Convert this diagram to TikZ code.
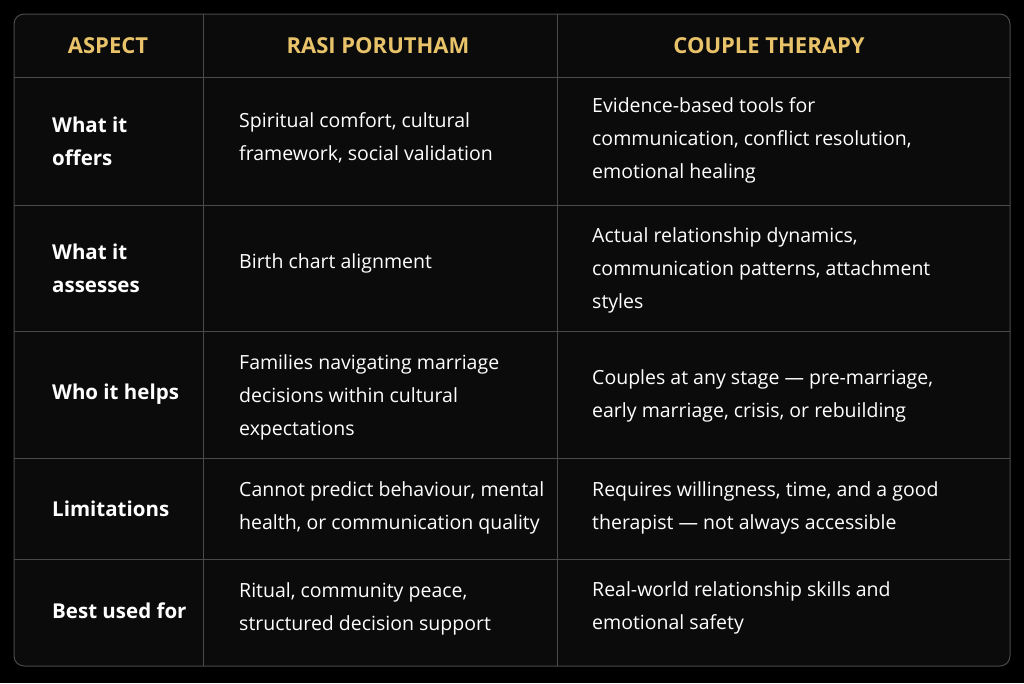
\documentclass[tikz,border=0pt]{standalone}
\usepackage{fontspec}
\setmainfont{Open Sans}
\definecolor{gold}{HTML}{E8C36A}
\definecolor{grid}{HTML}{4A4A4A}
\definecolor{cellbg}{HTML}{0B0B0B}
\begin{document}
\begin{tikzpicture}[x=1pt,y=-1pt,
  txt/.style={anchor=west,align=left,text=white,font=\fontsize{19.5}{33}\selectfont,inner sep=0pt},
  lbl/.style={txt,font=\bfseries\fontsize{20.5}{33}\selectfont},
  hdr/.style={text=gold,font=\bfseries\fontsize{22}{26}\selectfont,inner sep=0pt}]
\fill[black] (0,0) rectangle (1024,683);
\useasboundingbox (0,0) rectangle (1024,683);
\draw[grid,fill=cellbg,rounded corners=10pt,line width=1pt] (14,14) rectangle (1010,666);
\foreach \x in {203,557} \draw[grid,line width=1pt] (\x,14) -- (\x,666);
\foreach \y in {77,205,331,458,559} \draw[grid,line width=1pt] (14,\y) -- (1010,\y);
\node[hdr] (h1) at (108,46) {ASPECT};
\node[hdr] (h2) at (378,46) {RASI PORUTHAM};
\node[hdr] (h3) at (769,46) {COUPLE THERAPY};
\node[lbl] (a1) at (52,141) {What it\\offers};
\node[txt] (b1) at (239,138) {Spiritual comfort, cultural\\framework, social validation};
\node[txt] (c1) at (592,140) {Evidence-based tools for\\communication, conflict resolution,\\emotional healing};
\node[lbl] (a2) at (52,268) {What it\\assesses};
\node[txt] (b2) at (239,263) {Birth chart alignment};
\node[txt] (c2) at (592,270) {Actual relationship dynamics,\\communication patterns, attachment\\styles};
\node[lbl] (a3) at (52,394) {Who it helps};
\node[txt] (b3) at (239,397) {Families navigating marriage\\decisions within cultural\\expectations};
\node[txt] (c3) at (592,396) {Couples at any stage — pre-marriage,\\early marriage, crisis, or rebuilding};
\node[lbl] (a4) at (52,509) {Limitations};
\node[txt] (b4) at (239,508) {Cannot predict behaviour, mental\\health, or communication quality};
\node[txt] (c4) at (592,508) {Requires willingness, time, and a good\\therapist — not always accessible};
\node[lbl] (a5) at (52,611) {Best used for};
\node[txt] (b5) at (239,609) {Ritual, community peace,\\structured decision support};
\node[txt] (c5) at (592,608) {Real-world relationship skills and\\emotional safety};
\end{tikzpicture}
\end{document}
